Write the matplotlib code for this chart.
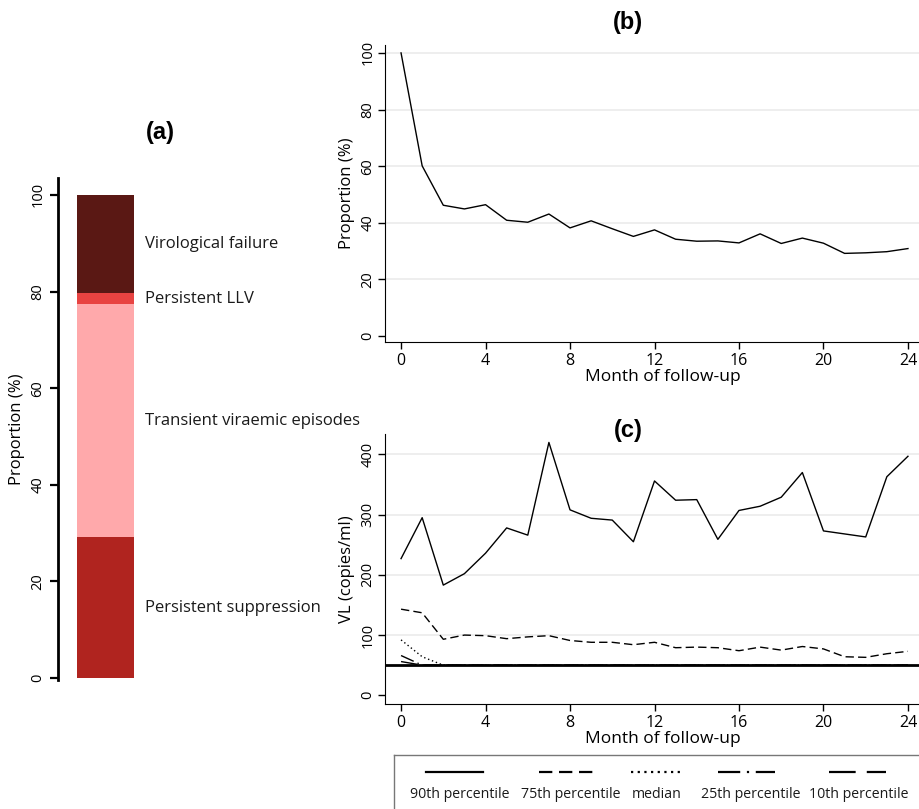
import matplotlib
matplotlib.use("Agg")
import matplotlib.pyplot as plt
from matplotlib.lines import Line2D

plt.rcParams['font.family'] = ['Open Sans', 'DejaVu Sans']

# ---------------- data ----------------
# Panel (a): stacked proportions (%)
a_categories = ["Persistent suppression", "Transient viraemic episodes",
                "Persistent LLV", "Virological failure"]
a_values = [29.2, 48.2, 2.3, 20.3]
a_colors = ["#b0241f", "#ffa9ab", "#e84341", "#5a1814"]

# Panel (b): proportion with VL > 50 by month
months = list(range(0, 25))
b_prop = [100, 60.1, 46.2, 44.9, 46.4, 40.9, 40.2, 43.1, 38.2, 40.7, 37.9,
          35.2, 37.5, 34.2, 33.5, 33.6, 32.9, 36.1, 32.7, 34.6, 32.8,
          29.2, 29.4, 29.8, 30.9]

# Panel (c): VL percentiles (copies/ml)
p90 = [227, 295, 183, 202, 236, 278, 266, 420, 308, 294, 291, 255, 356, 324,
       325, 259, 307, 314, 329, 370, 273, 268, 263, 363, 397]
p75 = [143, 137, 93, 100, 99, 94, 97, 99, 91, 88, 88, 84, 88, 79, 80, 79,
       74, 80, 75, 81, 77, 64, 63, 69, 73]
p50 = [92, 64, 50] + [50] * 22
p25 = [66, 50] + [50] * 23
p10 = [56, 50] + [50] * 23
lod = 50

series_labels = ["90th percentile", "75th percentile", "median",
                 "25th percentile", "10th percentile"]

# ---------------- layout ----------------
W, H = 920, 809
fig = plt.figure(figsize=(W / 100, H / 100), dpi=100)
fig.patch.set_facecolor("white")


def px_axes(x0, y0, x1, y1):
    return fig.add_axes([x0 / W, 1 - y1 / H, (x1 - x0) / W, (y1 - y0) / H])


ytick_fs = 10.5
xtick_fs = 11.5
label_fs = 12
title_kw = dict(fontsize=17, fontweight="bold", family=["Liberation Sans"])
grid_color = "#ebebeb"
text_color = "#1a1a1a"


def rot_yticks(ax):
    for lab in ax.get_yticklabels():
        lab.set_rotation(90)
        lab.set_va("center")
        lab.set_ha("right")


# ---------------- panel (a) ----------------
axa = px_axes(58, 178, 370, 680)
bottom = 0
for cat, val, col in zip(a_categories, a_values, a_colors):
    axa.bar(0, val, bottom=bottom, width=1, color=col, align="center")
    axa.text(0.70, bottom + val / 2, cat, fontsize=12, va="center",
             ha="left", color=text_color)
    bottom += val
axa.set_xlim(-0.83, 4.64)
axa.set_ylim(-0.4, 103.5)
axa.set_yticks([0, 20, 40, 60, 80, 100])
for s in ["top", "right", "bottom"]:
    axa.spines[s].set_visible(False)
axa.spines["left"].set_linewidth(2)
axa.tick_params(axis="y", direction="out", length=6, width=1.6,
                labelsize=ytick_fs, pad=3)
axa.set_xticks([])
rot_yticks(axa)
axa.set_ylabel("Proportion (%)", fontsize=label_fs, labelpad=4)
fig.text(160 / W, 1 - 133 / H, "(a)", ha="center", va="center", **title_kw)

# ---------------- panel (b) ----------------
axb = px_axes(385, 45, 920, 342)
axb.plot(months, b_prop, color="black", lw=1.0)
axb.set_xlim(-0.76, 24.57)
axb.set_ylim(-2.1, 102.8)
axb.set_xticks(range(0, 25, 4))
axb.set_yticks([0, 20, 40, 60, 80, 100])
for y in [20, 40, 60, 80, 100]:
    axb.axhline(y, color=grid_color, lw=1.2, zorder=0)
for s in ["top", "right"]:
    axb.spines[s].set_visible(False)
axb.tick_params(direction="out", length=5, width=1, pad=3)
axb.tick_params(axis="x", labelsize=xtick_fs)
axb.tick_params(axis="y", labelsize=ytick_fs, pad=2)
rot_yticks(axb)
axb.set_ylabel("Proportion (%)", fontsize=label_fs, labelpad=4)
axb.set_xlabel("Month of follow-up", fontsize=label_fs + 0.5)
axb.xaxis.set_label_coords(0.52, -0.092)
fig.text(628 / W, 1 - 22 / H, "(b)", ha="center", va="center", **title_kw)

# ---------------- panel (c) ----------------
axc = px_axes(385, 434, 920, 704)
styles = [
    dict(ls="-"),
    dict(ls=(0, (6, 3))),
    dict(ls=(0, (1, 2))),
    dict(ls=(0, (10, 3, 1, 3))),
    dict(ls=(0, (12, 5))),
]
series = [p90, p75, p50, p25, p10]
for vals, st, lab in zip(series, styles, series_labels):
    axc.plot(months, vals, color="black", lw=1.0, label=lab, **st)
axc.axhline(lod, color="black", lw=2.0, zorder=1)
axc.set_xlim(-0.76, 24.57)
axc.set_ylim(-14.5, 434)
axc.set_xticks(range(0, 25, 4))
axc.set_yticks([0, 100, 200, 300, 400])
for y in [100, 200, 300, 400]:
    axc.axhline(y, color=grid_color, lw=1.2, zorder=0)
for s in ["top", "right"]:
    axc.spines[s].set_visible(False)
axc.tick_params(direction="out", length=5, width=1, pad=3)
axc.tick_params(axis="x", labelsize=xtick_fs)
axc.tick_params(axis="y", labelsize=ytick_fs, pad=2)
rot_yticks(axc)
axc.set_ylabel("VL (copies/ml)", fontsize=label_fs, labelpad=4)
axc.set_xlabel("Month of follow-up", fontsize=label_fs + 0.5)
axc.xaxis.set_label_coords(0.52, -0.1)
fig.text(628 / W, 1 - 430 / H, "(c)", ha="center", va="center", **title_kw)

# ---------------- legend (Stata style: key above label) ----------------
axl = px_axes(394, 755, 921, 815)
axl.set_xlim(394, 921)
axl.set_ylim(815, 755)
axl.set_xticks([])
axl.set_yticks([])
for s in axl.spines.values():
    s.set_edgecolor("#777777")
    s.set_linewidth(1)
key_centers = [454.5, 566, 655.5, 746.5, 857.5]
label_centers = [460, 571, 657, 751, 858.5]
key_half = [28.5, 27.5, 24.5, 28.5, 28.5]
for kc, lc, hw, st, lab in zip(key_centers, label_centers, key_half,
                               styles, series_labels):
    axl.add_line(Line2D([kc - hw, kc + hw], [772, 772], color="black",
                        lw=1.6, **st))
    axl.text(lc, 794, lab, ha="center", va="center", fontsize=10.2,
             color=text_color)

fig.savefig("out.png", dpi=100)
